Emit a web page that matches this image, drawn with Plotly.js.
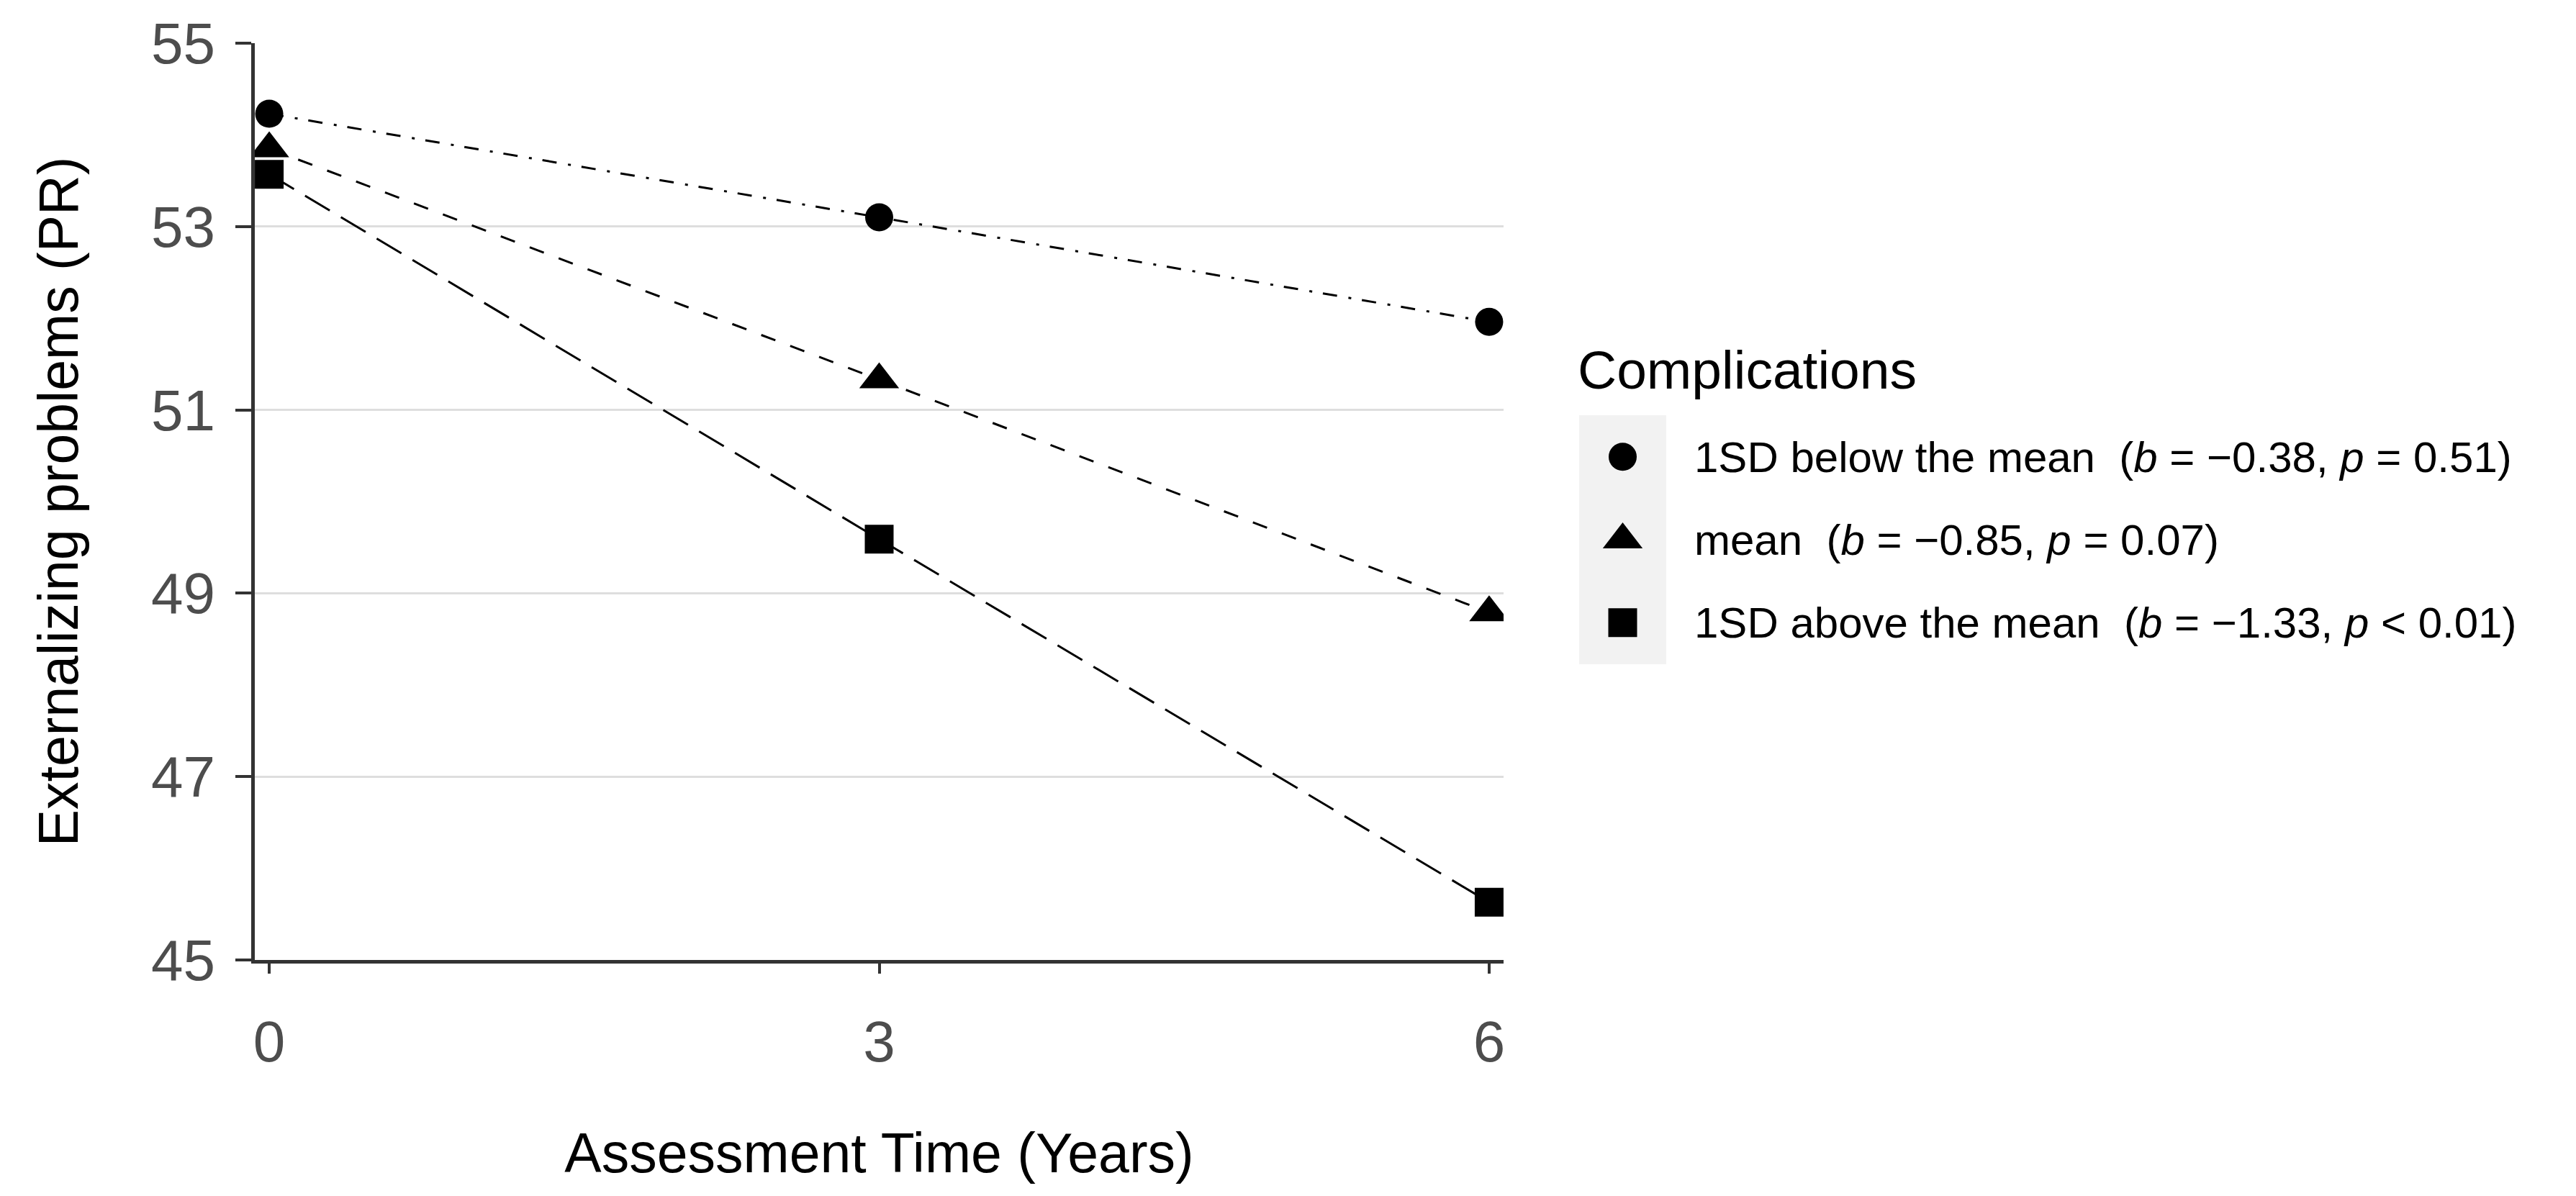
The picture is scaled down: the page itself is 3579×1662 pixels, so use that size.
<!DOCTYPE html>
<html>
<head>
<meta charset="utf-8">
<script src="https://cdn.plot.ly/plotly-3.0.1.min.js"></script>
<style>html,body{margin:0;padding:0;background:#fff;}#chart{width:3579px;height:1662px;}</style>
</head>
<body>
<div id="chart"></div>
<script>
// ---- data ----
var years = [0, 3, 6];
var yearTicks = [0, 3, 6];
var yTicks = [45, 47, 49, 51, 53, 55];
var below = [54.23, 53.10, 51.96];
var meanv = [53.85, 51.33, 48.79];
var above = [53.57, 49.59, 45.63];
var seriesKeys = ['below', 'mean', 'above'];
var seriesLabels = [
  '1SD below the mean\u00a0\u00a0(<i>b</i> = \u22120.38, <i>p</i> = 0.51)',
  'mean\u00a0\u00a0(<i>b</i> = \u22120.85, <i>p</i> = 0.07)',
  '1SD above the mean\u00a0\u00a0(<i>b</i> = \u22121.33, <i>p</i> &lt; 0.01)'
];
var legendTitle = 'Complications';
var xTitle = 'Assessment Time (Years)';
var yTitle = 'Externalizing problems (PR)';

// ---- styles ----
var W = 3579, H = 1662;
var font = 'Liberation Sans, Arial, sans-serif';
var symbols = ['circle', 'triangle-up', 'square'];
var sizes = [39, 48, 40];
var dashes = ['20px,16px,4px,15px', '21px,22px', '40px,18px'];
var values = [below, meanv, above];

var px = function (p) { return p / W; };
var py = function (p) { return 1 - p / H; };

var traces = [];
values.forEach(function (vals, i) {
  traces.push({
    x: years, y: vals, type: 'scatter', mode: 'lines',
    line: { color: '#000', width: 3, dash: dashes[i] },
    showlegend: false, hoverinfo: 'skip', xaxis: 'x', yaxis: 'y'
  });
});
values.forEach(function (vals, i) {
  traces.push({
    x: years, y: vals, type: 'scatter', mode: 'markers',
    marker: { color: '#000', size: sizes[i], symbol: symbols[i], opacity: 1, line: { width: 0 } },
    showlegend: false, xaxis: 'x', yaxis: 'y'
  });
});
// legend keys drawn on their own small axes
seriesKeys.forEach(function (k, i) {
  traces.push({
    x: ['key'], y: [k],
    type: 'scatter', mode: 'markers',
    marker: { color: '#000', size: sizes[i], symbol: symbols[i], opacity: 1, line: { width: 0 } },
    showlegend: false, xaxis: 'x2', yaxis: 'y2', cliponaxis: false
  });
});

var layout = {
  width: W, height: H,
  margin: { l: 0, r: 0, t: 0, b: 0 },
  paper_bgcolor: '#fff', plot_bgcolor: 'rgba(0,0,0,0)',
  font: { family: font, color: '#000' },
  showlegend: false,
  xaxis: {
    domain: [px(354), px(2089)],
    range: [-0.071, 6.071],
    tickvals: yearTicks, ticktext: yearTicks.map(String),
    ticks: 'outside', ticklen: 14, tickwidth: 4, tickcolor: '#333',
    showline: true, linecolor: '#333', linewidth: 5,
    showgrid: false, zeroline: false,
    tickfont: { size: 80, color: '#4d4d4d', family: font },
    ticklabelstandoff: 26,
    title: { text: xTitle, font: { size: 77, color: '#000', family: font }, standoff: 86 },
    anchor: 'y'
  },
  yaxis: {
    domain: [py(1334), py(60)],
    range: [45, 55],
    tickvals: yTicks, ticktext: yTicks.map(String),
    ticks: 'outside', ticklen: 22, tickwidth: 4, tickcolor: '#333',
    showline: true, linecolor: '#333', linewidth: 5,
    showgrid: true, gridcolor: '#dedede', gridwidth: 3,
    zeroline: false,
    tickfont: { size: 80, color: '#4d4d4d', family: font },
    ticklabelstandoff: 12,
    title: { text: yTitle, font: { size: 77, color: '#000', family: font }, standoff: 78 },
    anchor: 'x'
  },
  xaxis2: {
    domain: [px(2194), px(2315)],
    type: 'category', range: [-0.5, 0.5],
    showticklabels: false, ticks: '', showgrid: false, showline: false, zeroline: false,
    anchor: 'y2', fixedrange: true
  },
  yaxis2: {
    domain: [py(923), py(577)],
    type: 'category', categoryarray: seriesKeys, categoryorder: 'array',
    range: [seriesKeys.length - 0.5, -0.5],
    tickvals: seriesKeys, ticktext: seriesLabels,
    side: 'right', ticks: '', showgrid: false, showline: false, zeroline: false,
    tickfont: { size: 60, color: '#000', family: font },
    ticklabelstandoff: 38,
    anchor: 'x2', fixedrange: true
  },
  shapes: [{
    type: 'rect', xref: 'x2 domain', yref: 'y2 domain',
    x0: 0, x1: 1, y0: 0, y1: 1,
    fillcolor: '#f2f2f2', line: { width: 0 }, layer: 'below'
  }],
  annotations: [{
    text: legendTitle, xref: 'paper', yref: 'paper',
    x: px(2190), y: py(514), xanchor: 'left', yanchor: 'middle',
    showarrow: false, font: { size: 75, color: '#000', family: font }
  }]
};

Plotly.newPlot('chart', traces, layout, { staticPlot: true, displayModeBar: false });
</script>
</body>
</html>
